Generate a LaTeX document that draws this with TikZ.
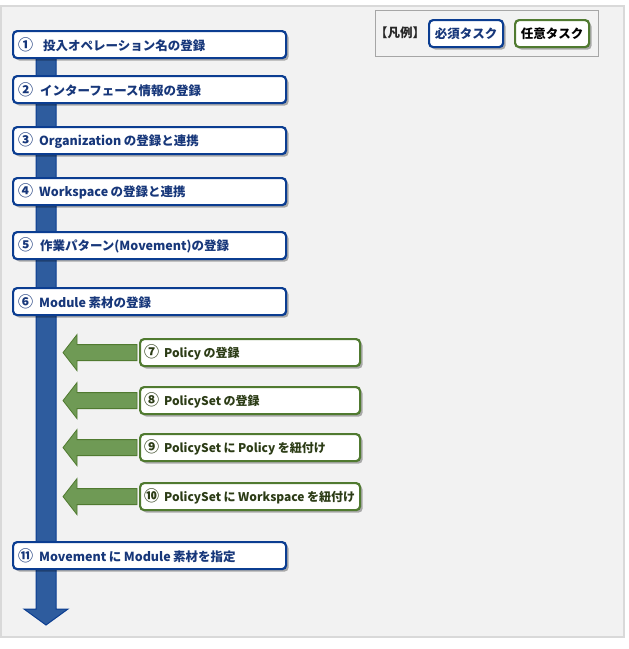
\documentclass[tikz,border=0pt]{standalone}
\usepackage{fontspec}
\setmainfont{Noto Sans CJK JP}
\usetikzlibrary{shadows,calc}
\definecolor{bgc}{HTML}{F2F2F2}
\definecolor{bgline}{HTML}{D9D9D9}
\definecolor{legline}{HTML}{A6A6A6}
\definecolor{bluebd}{HTML}{0B3D91}
\definecolor{bluetx}{HTML}{17377A}
\definecolor{barfill}{HTML}{2E5C9E}
\definecolor{greenbd}{HTML}{507A30}
\definecolor{greenfill}{HTML}{6F9A55}
\definecolor{greentx}{HTML}{2C3C16}
\newcommand{\cnum}[1]{{\fontsize{15}{15}\selectfont #1}}
\newcommand{\gap}{\hspace{2.5pt}}
\tikzset{
  taskbox/.style={draw, line width=2.2pt, rounded corners=4pt, fill=white,
    minimum height=27pt, inner xsep=5pt, inner ysep=1pt,
    font=\fontsize{12.5}{14}\selectfont\bfseries,
    drop shadow={shadow xshift=2.5pt, shadow yshift=-2.5pt, fill=black, opacity=0.3}},
  bluebox/.style={taskbox, draw=bluebd, text=bluetx, anchor=north west, text width=263pt, align=left},
  greenbox/.style={taskbox, draw=greenbd, text=greentx, anchor=north west, inner xsep=4pt, text width=212pt, align=left, font=\fontsize{12}{14}\selectfont\bfseries},
  legbox/.style={taskbox, anchor=north west, minimum width=74pt, align=center},
  garrow/.style={draw=greenbd, fill=greenfill, line width=0.8pt, line join=miter},
}
\begin{document}
\begin{tikzpicture}[x=1pt,y=-1pt]
\useasboundingbox (0,0) rectangle (629,649);
% background
\draw[bgline, line width=1.5pt, fill=bgc] (1,6) rectangle (624,637);
% legend
\draw[legline, line width=1pt] (375,10) rectangle (598,56);
\node[anchor=west, inner sep=0pt, font=\fontsize{12.5}{14}\selectfont\bfseries, text=black!85] (legtitle) at (375,33) {【凡例】};
\node[legbox, draw=bluebd, text=bluetx] (legreq) at (428,19) {必須タスク};
\node[legbox, draw=greenbd, text=black] (legopt) at (514,19) {任意タスク};
% main blue arrow
\coordinate (bartop) at (46,45);
\coordinate (bartip) at (46,625);
\draw[draw=bluebd, fill=barfill, line width=1pt, line join=miter]
  ($(bartop)+(-10,0)$) -- ($(bartip)+(-10,-16)$) -- ($(bartip)+(-22,-16)$) -- (bartip)
  -- ($(bartip)+(22,-16)$) -- ($(bartip)+(10,-16)$) -- ($(bartop)+(10,0)$) -- cycle;
% blue tasks
\node[bluebox] (t1) at (12,30) {\cnum{①}\hspace{10pt}投入オペレーション名の登録};
\node[bluebox] (t2) at (12,75) {\cnum{②}\hspace{7pt}インターフェース情報の登録};
\node[bluebox] (t3) at (12,126) {\cnum{③}\hspace{6pt}Organization\gap の登録と連携};
\node[bluebox] (t4) at (12,177) {\cnum{④}\hspace{6pt}Workspace\gap の登録と連携};
\node[bluebox] (t5) at (12,231) {\cnum{⑤}\hspace{7pt}作業パターン(Movement)の登録};
\node[bluebox] (t6) at (12,287) {\cnum{⑥}\hspace{6pt}Module\gap 素材の登録};
\node[bluebox] (t11) at (12,541) {\cnum{⑪}\hspace{6pt}Movement\gap に\gap Module\gap 素材を指定};
% green tasks
\node[greenbox] (t7) at (139,338) {\cnum{⑦}\hspace{5pt}Policy\gap の登録};
\node[greenbox] (t8) at (139,386) {\cnum{⑧}\hspace{5pt}PolicySet\gap の登録};
\node[greenbox] (t9) at (139,433) {\cnum{⑨}\hspace{5pt}PolicySet\gap に\gap Policy\gap を紐付け};
\node[greenbox] (t10) at (139,482) {\cnum{⑩}\hspace{5pt}PolicySet\gap に\gap Workspace\gap を紐付け};
% green arrows
\foreach \n in {t7,t8,t9,t10}{
  \coordinate (\n tip) at ($(\n.west)+(-76,0)$);
  \draw[garrow]
    ($(\n.west)+(-2,-8)$) -- ($(\n tip)+(14,-8)$) -- ($(\n tip)+(14,-18)$) -- (\n tip)
    -- ($(\n tip)+(14,18)$) -- ($(\n tip)+(14,8)$) -- ($(\n.west)+(-2,8)$) -- cycle;
}
\end{tikzpicture}
\end{document}
